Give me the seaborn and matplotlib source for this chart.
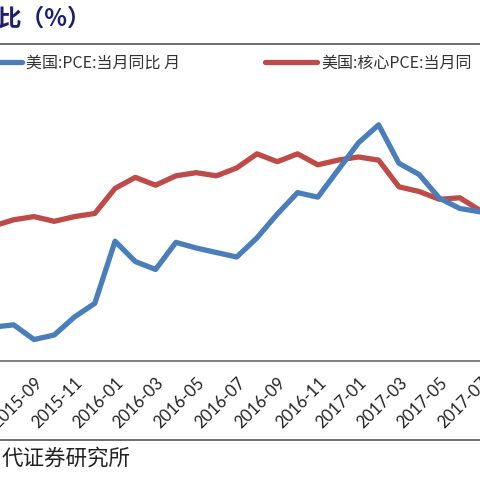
import numpy as np
import pandas as pd
import seaborn as sns
import matplotlib.pyplot as plt
from matplotlib.lines import Line2D

sns.set_style("white")
plt.rcParams['font.family'] = ['Noto Sans CJK SC', 'DejaVu Sans']

# months 2015-07 .. 2017-07
months = pd.period_range("2015-07", "2017-07", freq="M").strftime("%Y-%m").tolist()

# 美国:PCE:当月同比 (left axis)
pce = [0.30, 0.32, 0.19, 0.23, 0.39, 0.51, 1.06, 0.88, 0.81, 1.05, 1.00, 0.96, 0.92,
       1.09, 1.30, 1.49, 1.45, 1.69, 1.93, 2.09, 1.75, 1.65, 1.44, 1.35, 1.32]
# 美国:核心PCE:当月同比 (right axis)
core_pce = [1.36, 1.40, 1.42, 1.39, 1.42, 1.44, 1.60, 1.67, 1.62, 1.68, 1.70, 1.68, 1.73,
            1.82, 1.77, 1.82, 1.75, 1.78, 1.80, 1.78, 1.61, 1.58, 1.53, 1.54, 1.46]

label_pce = "美国:PCE:当月同比 月"
label_core = "美国:核心PCE:当月同"
title = "比（%）"
source = "代证券研究所"

df = pd.DataFrame({"month": months, "idx": np.arange(len(months)),
                   "pce": pce, "core": core_pce})

W = H = 480
fig = plt.figure(figsize=(4.8, 4.8), dpi=100)

# plot area (cropped: spans beyond the canvas sideways)
bottom_px, top_px = 361, 78.5
ax = fig.add_axes([0, 1 - bottom_px / H, 1, (bottom_px - top_px) / H])
ax2 = ax.twinx()

blue = "#4A7EBB"
red = "#BE4B48"
sns.lineplot(data=df, x="idx", y="pce", ax=ax, color=blue, lw=3.8, legend=False)
sns.lineplot(data=df, x="idx", y="core", ax=ax2, color=red, lw=3.8, legend=False)

step = 20.35
x0 = 6.6 / step
ax.set_xlim(x0, (W + 6.6) / step)
ax.set_ylim(0, 2.5)
ax2.set_ylim(0.5, 2.3)

for a in (ax, ax2):
    for s in ("left", "right", "top"):
        a.spines[s].set_visible(False)
    a.set_yticks([])
    a.set_xlabel("")
    a.set_ylabel("")
ax2.spines["bottom"].set_visible(False)
ax.spines["bottom"].set_color("#808080")
ax.spines["bottom"].set_linewidth(1.4)
ax.set_zorder(ax2.get_zorder() + 1)
ax.patch.set_visible(False)

# labels at every 2nd month, tick marks on boundaries
lab_idx = list(range(2, len(months), 2))
ax.set_xticks(lab_idx)
ax.set_xticklabels([months[i] for i in lab_idx], rotation=45, ha="right",
                   va="top", rotation_mode="anchor", fontsize=12,
                   color="#222222", family=["Lato", "DejaVu Sans"])
ax.tick_params(axis="x", which="major", length=0, pad=10)
ax.set_xticks([i - 0.5 for i in lab_idx], minor=True)
ax.tick_params(axis="x", which="minor", length=4, width=1.2, color="#808080",
               direction="out")

# title and rules
fig.text(-0.004, 1 - 19 / H, title, fontsize=17, fontweight="bold",
         color="#1C1F6E", va="center", ha="left")
fig.add_artist(Line2D([0, 1], [1 - 43.5 / H] * 2, color="#555555", lw=1.2))
fig.add_artist(Line2D([0, 1], [1 - 439.5 / H] * 2, color="#555555", lw=1.2))

# legend
fs_leg = 11.5
hl = 52 / (fs_leg * 100 / 72)
h1 = Line2D([], [], color=blue, lw=3.8)
h2 = Line2D([], [], color=red, lw=3.8)
for h, lab, xp in ((h1, label_pce, -30), (h2, label_core, 265)):
    fig.legend([h], [lab], loc="center left", bbox_to_anchor=(xp / W, 1 - 63 / H),
               frameon=False, borderpad=0, borderaxespad=0, handlelength=hl,
               handletextpad=0.25, fontsize=fs_leg, labelcolor="#333333")

fig.text(0.004, 1 - 459 / H, source, fontsize=15.5, color="#222222",
         va="center", ha="left")

fig.savefig("out.png", dpi=100)
